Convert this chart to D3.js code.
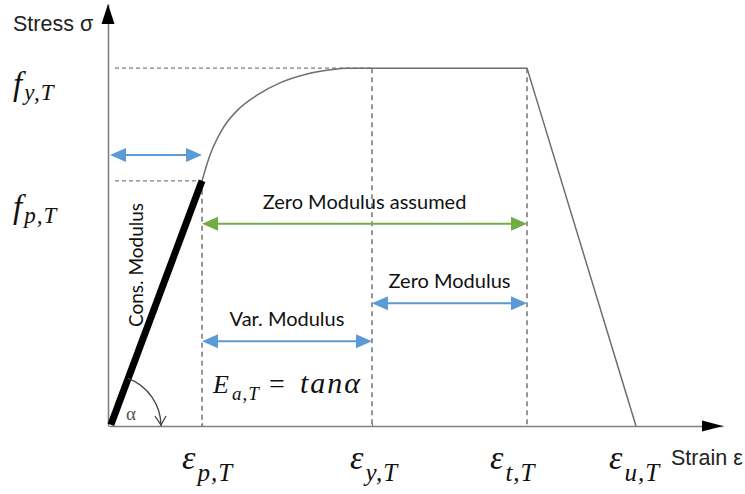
<!DOCTYPE html>
<html>
<head>
<meta charset="utf-8">
<script src="https://cdn.jsdelivr.net/npm/d3@7"></script>
<style>
  html, body { margin: 0; padding: 0; background: #fff; }
  svg { display: block; }
</style>
</head>
<body>
<svg id="chart" width="745" height="494"></svg>
<script>
// Idealised stress–strain law of steel at elevated temperature T

// Characteristic strains on the horizontal axis (ε_p,T, ε_y,T, ε_t,T, ε_u,T)
const strainKeys = ["p", "y", "t", "u"];
const strainValues = [1.515, 4.283, 6.808, 8.583];

// Characteristic stresses on the vertical axis (f_y,T, f_p,T)
const stressKeys = ["y", "p"];
const stressValues = [84.8, 58.1];

// Elliptic transition branch between f_p,T and f_y,T
const curveStrain = [1.515, 1.645, 1.857, 2.134, 2.410, 2.785, 3.225, 3.600, 3.876, 4.283];
const curveStress = [58.1, 64.2, 70.6, 75.4, 78.4, 81.3, 83.4, 84.4, 84.8, 84.8];

// Modulus ranges: start strain, end strain, drawn at stress level
const rangeNames = ["", "Zero Modulus assumed", "Zero Modulus", "Var. Modulus"];
const rangeFrom = [0, 1.515, 4.283, 1.515];
const rangeTo = [1.515, 6.808, 6.808, 4.283];
const rangeLevel = [64.2, 47.9, 29.1, 20.1];
const rangeColor = ["#5b9bd5", "#70ad47", "#5b9bd5", "#5b9bd5"];

const svg = d3.select("#chart");

const x = d3.scaleLinear().domain([0, 10]).range([109, 723]);
const y = d3.scaleLinear().domain([0, 100]).range([426, 4]);

const sP = strainValues[0], sY = strainValues[1], sT = strainValues[2], sU = strainValues[3];
const fY = stressValues[0], fP = stressValues[1];

// ---- Reference dashed lines ----
const guides = svg.append("g");
guides.append("line")
  .attr("x1", x(0) + 6).attr("x2", x(sY))
  .attr("y1", y(fY)).attr("y2", y(fY))
  .attr("stroke", "#7f7f7f").attr("stroke-width", 1.2).attr("stroke-dasharray", "4,3");
guides.append("line")
  .attr("x1", x(0) + 6).attr("x2", x(sP))
  .attr("y1", y(fP)).attr("y2", y(fP))
  .attr("stroke", "#7f7f7f").attr("stroke-width", 1.2).attr("stroke-dasharray", "4,3");
[[sP, fP], [sY, fY], [sT, fY]].forEach(([s, f]) => {
  guides.append("line")
    .attr("x1", x(s)).attr("x2", x(s))
    .attr("y1", y(f)).attr("y2", y(0))
    .attr("stroke", "#404040").attr("stroke-width", 1.1).attr("stroke-dasharray", "5,4");
});

// ---- Axes ----
const xAxis = d3.axisBottom(x).tickValues(strainValues.slice(0, 2)).tickSize(-3).tickSizeOuter(0).tickFormat("");
const yAxis = d3.axisLeft(y).tickValues([]).tickSizeOuter(0);
const gx = svg.append("g").attr("transform", `translate(0,${y(0)})`).call(xAxis);
const gy = svg.append("g").attr("transform", `translate(${x(0) - 1},0)`).call(yAxis);
[gx, gy].forEach(g => {
  g.select(".domain").attr("stroke", "#808080").attr("stroke-width", 1.6);
  g.selectAll(".tick line").attr("stroke", "#808080").attr("stroke-width", 1.2);
});
// arrow heads on the axes
svg.append("path")
  .attr("d", `M${x(10)},${y(0)} L${x(10) - 21},${y(0) - 5.5} L${x(10) - 21},${y(0) + 5.5} Z`)
  .attr("fill", "#000");
svg.append("path")
  .attr("d", `M${x(0) - 1},${y(100)} L${x(0) - 7.5},${y(100) + 20} L${x(0) + 5.5},${y(100) + 20} Z`)
  .attr("fill", "#000");

svg.append("text").attr("x", 13).attr("y", 31)
  .attr("font-family", "Liberation Sans, Arial, sans-serif").attr("font-size", 21.5)
  .attr("fill", "#222").text("Stress σ");
svg.append("text").attr("x", 671).attr("y", 465)
  .attr("font-family", "Liberation Sans, Arial, sans-serif").attr("font-size", 21.5)
  .attr("fill", "#222").text("Strain ε");

// ---- Stress–strain law ----
const line = d3.line().x(d => x(d[0])).y(d => y(d[1]));
const branch = curveStrain.map((s, i) => [s, curveStress[i]]);
svg.append("path")
  .datum(branch)
  .attr("d", d3.line().x(d => x(d[0])).y(d => y(d[1])).curve(d3.curveMonotoneX))
  .attr("fill", "none").attr("stroke", "#6e6e6e").attr("stroke-width", 1.5);
svg.append("path")
  .datum([[sY, fY], [sT, fY], [sU, 0]])
  .attr("d", line)
  .attr("fill", "none").attr("stroke", "#6e6e6e").attr("stroke-width", 1.5);
// constant (initial) modulus
svg.append("path")
  .datum([[0.03, 0.3], [sP, fP]])
  .attr("d", line)
  .attr("fill", "none").attr("stroke", "#000").attr("stroke-width", 7);

// ---- Angle α ----
const ox = x(0) + 1, oy = y(0);
const ang0 = Math.atan2(y(0) - y(fP), x(sP) - x(0));
const R = 51;
const arc = d3.path();
arc.arc(ox, oy, R, -ang0, 0, false);
svg.append("path").attr("d", arc.toString())
  .attr("fill", "none").attr("stroke", "#444").attr("stroke-width", 1.3);
svg.append("path")
  .attr("d", `M${ox + R - 6},${oy - 10} L${ox + R},${oy - 1} L${ox + R + 5},${oy - 10}`)
  .attr("fill", "none").attr("stroke", "#444").attr("stroke-width", 1.3);
svg.append("text").attr("x", 126).attr("y", 420)
  .attr("font-family", "Liberation Serif, serif").attr("font-size", 19)
  .attr("fill", "#555").text("α");

// ---- Modulus range arrows ----
const textFont = "Lato, 'Open Sans', sans-serif";
rangeNames.forEach((name, i) => {
  const g = svg.append("g");
  const x1 = x(rangeFrom[i]) + (i === 0 ? 1 : 0), x2 = x(rangeTo[i]), yy = y(rangeLevel[i]);
  const hl = 16, hw = 7;
  g.append("line").attr("x1", x1 + hl - 2).attr("x2", x2 - hl + 2)
    .attr("y1", yy).attr("y2", yy)
    .attr("stroke", rangeColor[i]).attr("stroke-width", 2);
  g.append("path")
    .attr("d", `M${x1},${yy} L${x1 + hl},${yy - hw} L${x1 + hl},${yy + hw} Z M${x2},${yy} L${x2 - hl},${yy - hw} L${x2 - hl},${yy + hw} Z`)
    .attr("fill", rangeColor[i]);
  if (name) {
    g.append("text")
      .attr("x", (x1 + x2) / 2).attr("y", yy - 15)
      .attr("text-anchor", "middle")
      .attr("font-family", textFont).attr("font-size", 20)
      .attr("fill", "#111").text(name);
  }
});

svg.append("text")
  .attr("transform", `translate(143,265) rotate(-90)`)
  .attr("text-anchor", "middle")
  .attr("font-family", textFont).attr("font-size", 19)
  .attr("fill", "#111").text("Cons. Modulus");

// ---- Math labels ----
const mathFont = "Liberation Serif, 'DejaVu Serif', serif";
function mathLabel(px, py, main, sub, size, subSize, drop) {
  const t = svg.append("text").attr("x", px).attr("y", py)
    .attr("font-family", mathFont).attr("font-style", "italic")
    .attr("font-size", size).attr("fill", "#111");
  t.append("tspan").text(main);
  t.append("tspan").attr("font-size", subSize).attr("dx", 2).attr("dy", drop)
    .attr("letter-spacing", 1).text(sub);
  return t;
}
const fBaseShift = [27, 37];
stressKeys.forEach((k, i) => {
  mathLabel(13, y(stressValues[i]) + fBaseShift[i], "f", k + ",T", 33, 23, 5);
});
const epsShift = [-20, -22, -37, -27];
strainKeys.forEach((k, i) => {
  mathLabel(x(strainValues[i]) + epsShift[i], 469, "ε", k + ",T", 34, 25, 12);
});

// E_a,T = tanα
const e = svg.append("text").attr("y", 393)
  .attr("font-family", mathFont).attr("font-size", 26).attr("fill", "#111");
e.append("tspan").attr("x", 213).attr("font-style", "italic").text("E");
e.append("tspan").attr("x", 232).attr("dy", 7).attr("font-style", "italic")
  .attr("font-size", 19).attr("letter-spacing", 1).text("a,T");
e.append("tspan").attr("x", 269).attr("dy", -7).attr("font-size", 28).text("=");
e.append("tspan").attr("x", 300).attr("font-style", "italic").attr("font-size", 30)
  .attr("letter-spacing", 2).text("tanα");
</script>
</body>
</html>
